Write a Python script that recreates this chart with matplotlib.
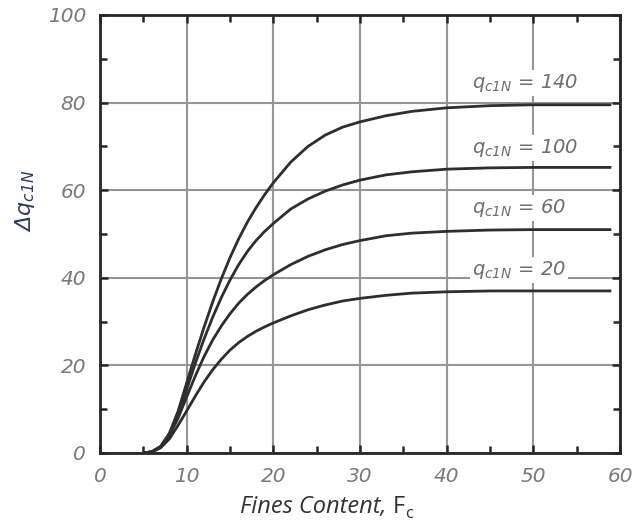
import matplotlib
matplotlib.use("Agg")
import matplotlib.pyplot as plt
from matplotlib.ticker import MultipleLocator

plt.rcParams["mathtext.fontset"] = "custom"
plt.rcParams["mathtext.it"] = "DejaVu Sans:italic"
plt.rcParams["mathtext.rm"] = "DejaVu Sans:italic"
plt.rcParams["mathtext.bf"] = "DejaVu Sans:bold:italic"

# Fines content values (%)
fines = [5, 6, 7, 8, 9, 10, 11, 12, 13, 14, 15, 16, 17, 18, 19, 20,
         22, 24, 26, 28, 30, 33, 36, 40, 45, 50, 55, 59]

# Correction curves for each normalized cone resistance
dq_140 = [0, 0.3, 1.5, 4.5, 9.5, 16.0, 22.5, 28.7, 34.5, 39.8, 44.6, 48.9, 52.7, 56.0, 59.0, 61.7,
          66.4, 70.0, 72.6, 74.4, 75.6, 77.0, 78.0, 78.8, 79.3, 79.5, 79.5, 79.5]
dq_100 = [0, 0.3, 1.5, 4.3, 8.5, 14.5, 20.5, 26.0, 31.0, 35.5, 39.5, 43.0, 46.0, 48.5, 50.6, 52.4,
          55.7, 58.0, 59.8, 61.2, 62.3, 63.5, 64.2, 64.8, 65.1, 65.2, 65.2, 65.2]
dq_60 = [0, 0.3, 1.4, 4.0, 7.9, 12.8, 17.6, 22.0, 25.8, 29.0, 31.8, 34.2, 36.2, 37.9, 39.4, 40.7,
         43.0, 44.9, 46.4, 47.6, 48.5, 49.6, 50.2, 50.6, 50.9, 51.0, 51.0, 51.0]
dq_20 = [0, 0.2, 1.2, 3.2, 6.3, 9.6, 13.0, 16.2, 19.0, 21.4, 23.5, 25.2, 26.6, 27.8, 28.8, 29.7,
         31.3, 32.7, 33.8, 34.7, 35.3, 36.0, 36.5, 36.8, 37.0, 37.0, 37.0, 37.0]

curves = [dq_140, dq_100, dq_60, dq_20]
qc1n_values = ["140", "100", "60", "20"]
label_y = [84.5, 69.6, 55.9, 41.8]

fig = plt.figure(figsize=(6.35, 5.26), dpi=100)
ax = fig.add_axes([0.1575, 0.1388, 0.8189, 0.8327])

ax.set_xlim(0, 60)
ax.set_ylim(0, 100)

ax.xaxis.set_major_locator(MultipleLocator(10))
ax.xaxis.set_minor_locator(MultipleLocator(5))
ax.yaxis.set_major_locator(MultipleLocator(20))
ax.yaxis.set_minor_locator(MultipleLocator(10))

ax.grid(True, which="major", color="#969696", lw=1.5, zorder=0)
ax.set_axisbelow(True)

for ys in curves:
    ax.plot(fines, ys, color="#2e2e2e", lw=2.0, zorder=3, solid_capstyle="butt")

for val, ly in zip(qc1n_values, label_y):
    ax.text(42.9, ly, r"$q_{c1N}$ = " + val, fontsize=14, fontstyle="italic",
            family="DejaVu Sans", color="#6e6e6e", va="center", ha="left",
            zorder=2,
            bbox=dict(boxstyle="square,pad=0.1", fc="white", ec="none"))

for s in ax.spines.values():
    s.set_linewidth(2.0)
    s.set_color("#262626")

ax.tick_params(which="both", direction="in", top=True, right=True,
               color="#262626", width=1.8)
ax.tick_params(which="major", length=6, pad=10)
ax.tick_params(which="minor", length=5)
for lab in ax.get_xticklabels() + ax.get_yticklabels():
    lab.set_fontstyle("italic")
    lab.set_fontfamily("DejaVu Sans")
    lab.set_fontsize(14.5)
    lab.set_color("#7a7a7a")

ax.set_ylabel(r"$\Delta q_{c1N}$", fontsize=16, color="#2c3a5c")
ax.yaxis.set_label_coords(-0.122, 0.575)

# x label: italic words, upright F with subscript c
t1 = fig.text(0.378, 0.024, "Fines Content, ", fontsize=17, fontstyle="italic",
              family="Open Sans", color="#333333", ha="left", va="baseline")
t2 = ax.annotate("F", xy=(1, 0), xycoords=t1, fontsize=17, family="Open Sans",
                 color="#333333", va="bottom", ha="left", annotation_clip=False)
ax.annotate("c", xy=(1, 0), xycoords=t2, xytext=(0.5, -2.0), textcoords="offset points",
            fontsize=12, family="Open Sans", color="#333333", va="bottom", ha="left",
            annotation_clip=False)

fig.savefig("out.png", dpi=100)
